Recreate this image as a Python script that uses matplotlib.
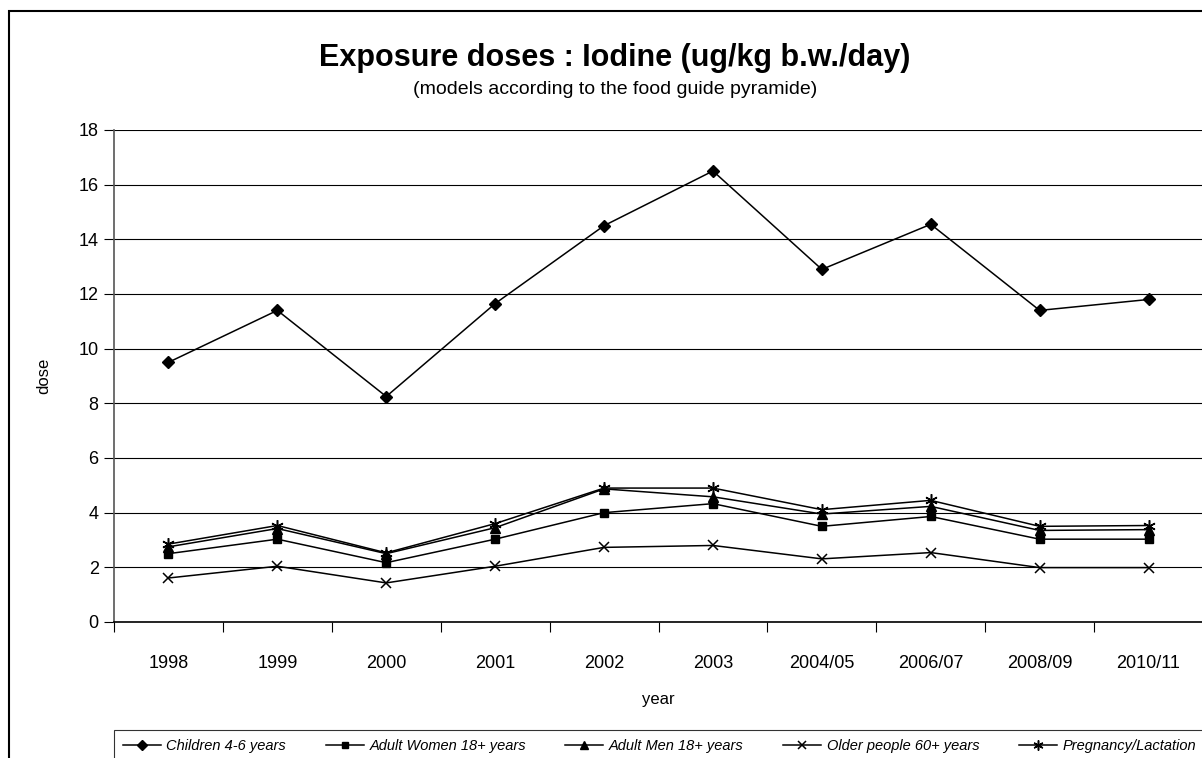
import numpy as np
import matplotlib.pyplot as plt
from matplotlib.patches import Rectangle

plt.rcParams['font.family'] = ['Liberation Sans', 'DejaVu Sans']

years = ["1998", "1999", "2000", "2001", "2002", "2003",
         "2004/05", "2006/07", "2008/09", "2010/11"]

children = [9.5, 11.4, 8.25, 11.65, 14.5, 16.5, 12.9, 14.55, 11.4, 11.8]
women = [2.5, 3.03, 2.17, 3.03, 4.0, 4.33, 3.5, 3.86, 3.03, 3.03]
men = [2.75, 3.42, 2.5, 3.45, 4.87, 4.58, 3.95, 4.23, 3.35, 3.38]
older = [1.61, 2.04, 1.43, 2.04, 2.73, 2.8, 2.31, 2.54, 1.99, 1.99]
pregnancy = [2.85, 3.53, 2.53, 3.6, 4.9, 4.9, 4.11, 4.45, 3.5, 3.53]

series = [
    ("Children 4-6 years", children, dict(marker="D", ms=6)),
    ("Adult Women 18+ years", women, dict(marker="s", ms=6)),
    ("Adult Men 18+ years", men, dict(marker="^", ms=7)),
    ("Older people 60+ years", older, dict(marker="x", ms=7, mew=1.1)),
    ("Pregnancy/Lactation", pregnancy, dict(marker=(6, 2, 0), ms=9, mew=1.1)),
]

W, H = 1202, 758
fig = plt.figure(figsize=(W / 100, H / 100), dpi=100)

# outer chart border (right/bottom run off the picture)
fig.patches.append(Rectangle((9 / W, -0.1), 1.2, 1 - 11 / H + 0.1,
                             transform=fig.transFigure, fill=False,
                             edgecolor="black", lw=1.5))

ax = fig.add_axes([114 / W, (H - 622) / H, (1203 - 114) / W, (622 - 130) / H])
x = np.arange(len(years))
for label, vals, style in series:
    ax.plot(x, vals, color="black", lw=1.1, mfc="black", mec="black",
            label=label, clip_on=False, **style)

ax.set_ylim(0, 18)
ax.set_yticks(np.arange(0, 19, 2))
ax.set_xlim(-0.5, len(years) - 0.5)
ax.set_xticks(x)
ax.set_xticklabels(years)
ax.set_xticks(np.arange(-0.5, len(years), 1), minor=True)
ax.tick_params(axis="x", which="major", length=0, pad=24, labelsize=13)
ax.tick_params(axis="x", which="minor", length=7, direction="out", width=0.8)
ax.tick_params(axis="y", length=7, direction="out", width=0.8, labelsize=13, pad=4)
ax.yaxis.grid(True, color="black", lw=0.8)
ax.set_axisbelow(True)
for s in ("top", "right"):
    ax.spines[s].set_visible(False)
ax.spines["left"].set_color("#555555")
ax.spines["left"].set_linewidth(1.2)
ax.spines["bottom"].set_linewidth(1.2)

ax.set_xlabel("year", fontsize=12, labelpad=14)
ax.set_ylabel("dose", fontsize=12, labelpad=20)

fig.text(615 / W, 1 - 58 / H, "Exposure doses : Iodine (ug/kg b.w./day)",
         ha="center", va="center", fontsize=22, fontweight="bold")
fig.text(615 / W, 1 - 90 / H, "(models according to the food guide pyramide)",
         ha="center", va="center", fontsize=14)

leg = fig.legend(loc="upper left", bbox_to_anchor=(114 / W, 1 - 730 / H),
                 ncol=5, frameon=True, fancybox=False, edgecolor="black",
                 prop=dict(size=10.5, style="italic"), handlelength=2.6,
                 columnspacing=2.7, handletextpad=0.4, borderpad=0.6,
                 borderaxespad=0)
leg.get_frame().set_linewidth(0.8)
for h in leg.legend_handles:
    h.set_markersize(h.get_markersize() * 0.8)

fig.savefig("out.png", dpi=100)
